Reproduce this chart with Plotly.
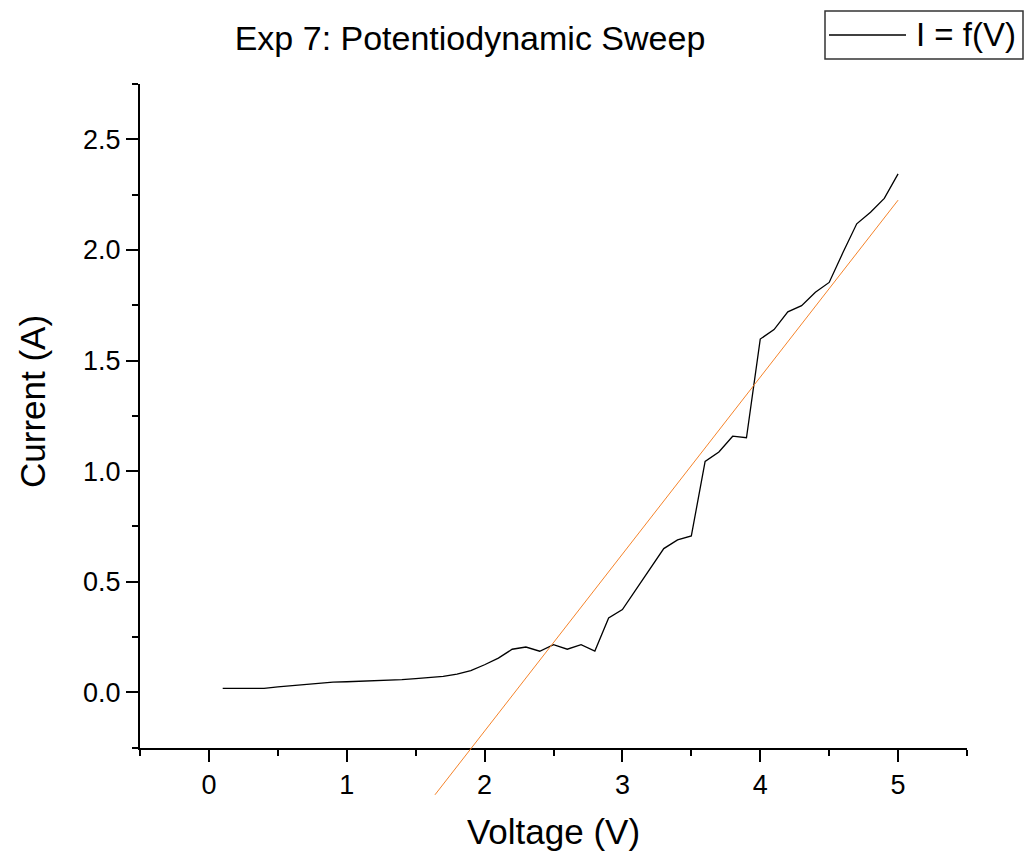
import plotly.graph_objects as go

# Data
voltage = [0.1, 0.2, 0.3, 0.4, 0.5, 0.6, 0.7, 0.8, 0.9, 1.0,
           1.1, 1.2, 1.3, 1.4, 1.5, 1.6, 1.7, 1.8, 1.9, 2.0,
           2.1, 2.2, 2.3, 2.4, 2.5, 2.6, 2.7, 2.8, 2.9, 3.0,
           3.1, 3.2, 3.3, 3.4, 3.5, 3.6, 3.7, 3.8, 3.9, 4.0,
           4.1, 4.2, 4.3, 4.4, 4.5, 4.6, 4.7, 4.8, 4.9, 5.0]
current = [0.018, 0.018, 0.018, 0.018, 0.025, 0.030, 0.037, 0.040, 0.046, 0.048,
           0.050, 0.055, 0.057, 0.058, 0.062, 0.068, 0.072, 0.083, 0.098, 0.125,
           0.155, 0.195, 0.205, 0.186, 0.216, 0.195, 0.216, 0.187, 0.336, 0.374,
           0.464, 0.556, 0.650, 0.689, 0.707, 1.044, 1.087, 1.158, 1.151, 1.597,
           1.640, 1.720, 1.748, 1.809, 1.853, 1.988, 2.118, 2.170, 2.233, 2.344]

fit_x = [1.64, 5.0]
fit_y = [-0.463, 2.225]

x_ticks = [0, 1, 2, 3, 4, 5]
y_ticks = [0.0, 0.5, 1.0, 1.5, 2.0, 2.5]

title_text = "Exp 7: Potentiodynamic Sweep"
x_title = "Voltage (V)"
y_title = "Current (A)"
legend_label = "I = f(V)"

FONT = "Arial, Liberation Sans, sans-serif"

fig = go.Figure()
fig.add_trace(go.Scatter(x=voltage, y=current, mode="lines",
                         line=dict(color="#000000", width=1.3),
                         name=legend_label, showlegend=False,
                         xaxis="x", yaxis="y"))
fig.add_trace(go.Scatter(x=fit_x, y=fit_y, mode="lines",
                         line=dict(color="#F5832A", width=1),
                         showlegend=False, xaxis="x2", yaxis="y2"))

ylo_main, yhi = -0.25, 2.75
ylo_ext = -0.5
dom_bottom = (ylo_main - ylo_ext) / (yhi - ylo_ext)

axis_common = dict(showline=True, linecolor="black", linewidth=2,
                   ticks="outside", ticklen=12, tickwidth=2, tickcolor="black",
                   showgrid=False, zeroline=False,
                   tickfont=dict(family=FONT, size=27, color="black"))

L, R, T, B = 140, 59, 84, 54
W, H = 1026, 857

fig.update_layout(
    width=W, height=H,
    margin=dict(l=L, r=R, t=T, b=B, autoexpand=False),
    paper_bgcolor="white", plot_bgcolor="rgba(0,0,0,0)",
    title=dict(text=title_text, x=470/W, xanchor="center", xref="container",
               y=1 - 38/H, yanchor="middle", yref="container",
               font=dict(family=FONT, size=34, color="black")),
    xaxis=dict(range=[-0.5, 5.5], domain=[0, 1], anchor="y",
               tickvals=x_ticks, ticktext=[str(v) for v in x_ticks],
               minor=dict(dtick=0.5, tick0=0, ticks="outside", ticklen=6,
                          tickwidth=2, tickcolor="black"),
               title=dict(text=x_title, standoff=20,
                          font=dict(family=FONT, size=35, color="black")),
               automargin=False, **axis_common),
    yaxis=dict(range=[ylo_main, yhi], domain=[dom_bottom, 1], anchor="x",
               tickvals=y_ticks, ticktext=[f"{v:.1f}" for v in y_ticks],
               minor=dict(dtick=0.25, tick0=0, ticks="outside", ticklen=6,
                          tickwidth=2, tickcolor="black"),
               automargin=False, **axis_common),
    xaxis2=dict(range=[-0.5, 5.5], domain=[0, 1], anchor="y2", visible=False),
    yaxis2=dict(range=[ylo_ext, yhi], domain=[0, 1], anchor="x2", visible=False),
)


def px_x(p):
    return (p - L) / (W - L - R)


def px_y(p):
    return (H - B - p) / (H - T - B)


# Y axis title (placed as in the reference, slightly above plot centre)
fig.add_annotation(text=y_title, xref="paper", yref="paper",
                   x=px_x(32), y=px_y(401), textangle=-90,
                   xanchor="center", yanchor="middle", showarrow=False,
                   font=dict(family=FONT, size=35, color="black"))

# Legend box drawn like the reference (long line sample)
fig.add_shape(type="rect", xref="paper", yref="paper",
              x0=px_x(825), x1=px_x(1023), y0=px_y(59), y1=px_y(11),
              line=dict(color="#333333", width=1.5), fillcolor="white")
fig.add_shape(type="line", xref="paper", yref="paper",
              x0=px_x(829), x1=px_x(906), y0=px_y(35), y1=px_y(35),
              line=dict(color="black", width=1.3))
fig.add_annotation(text=legend_label, xref="paper", yref="paper",
                   x=px_x(914), y=px_y(35), xanchor="left", yanchor="middle",
                   showarrow=False,
                   font=dict(family=FONT, size=33, color="black"))

fig.write_html("out.html")
